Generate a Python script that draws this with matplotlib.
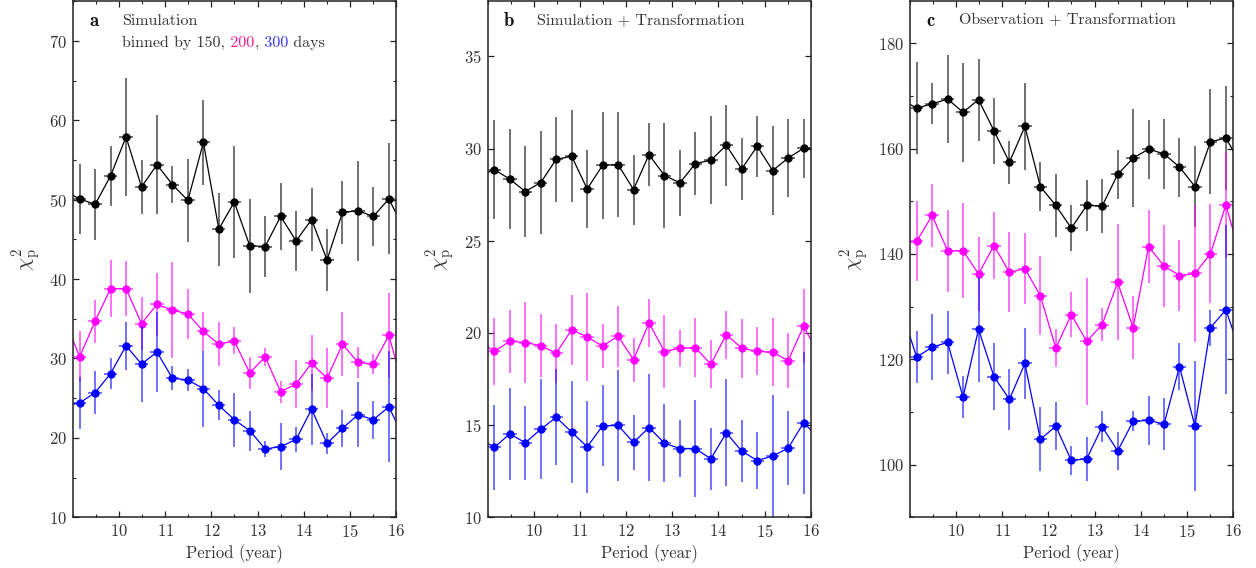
import numpy as np
import matplotlib.pyplot as plt
from matplotlib.ticker import MultipleLocator

plt.rcParams['font.family'] = ['cmr10', 'DejaVu Serif']
plt.rcParams['mathtext.fontset'] = 'cm'
plt.rcParams['axes.formatter.use_mathtext'] = True
plt.rcParams['font.size'] = 11

# period grid (years); first and last points lie just outside the axes
periods = [8.81, 9.145, 9.48, 9.815, 10.15, 10.485, 10.82, 11.155, 11.49, 11.825,
           12.16, 12.495, 12.83, 13.165, 13.5, 13.835, 14.17, 14.505, 14.84,
           15.175, 15.51, 15.845, 16.18]

# panel a: Simulation
a_150 = [51.1, 50.1, 49.4, 53.0, 57.9, 51.6, 54.4, 51.9, 49.9, 57.2, 46.3, 49.7,
         44.2, 44.1, 47.9, 44.8, 47.5, 42.4, 48.4, 48.6, 47.9, 50.1, 46.2]
a_150_err = [4.0, 4.45, 4.5, 3.8, 7.4, 3.4, 6.2, 2.3, 5.2, 5.4, 4.6, 7.1,
             5.9, 3.9, 4.2, 3.8, 4.0, 3.9, 4.0, 6.3, 3.7, 7.0, 4.0]
a_200 = [35.1, 30.2, 34.7, 38.8, 38.8, 34.4, 36.8, 36.1, 35.6, 33.4, 31.8, 32.2,
         28.2, 30.2, 25.8, 26.8, 29.4, 27.5, 31.8, 29.5, 29.3, 32.9, 25.9]
a_200_err = [3.0, 3.2, 2.7, 3.6, 3.5, 3.3, 4.0, 6.0, 3.2, 2.5, 2.8, 1.7,
             2.0, 1.1, 1.4, 3.0, 3.5, 3.8, 4.0, 2.0, 1.3, 5.3, 3.0]
a_300 = [24.0, 24.4, 25.7, 28.1, 31.6, 29.3, 30.8, 27.5, 27.3, 26.2, 24.1, 22.3,
         20.9, 18.6, 18.9, 19.8, 23.6, 19.3, 21.2, 22.9, 22.3, 23.9, 19.9]
a_300_err = [3.0, 3.3, 2.7, 2.0, 3.0, 4.8, 5.0, 1.5, 1.4, 4.8, 1.9, 3.4,
             2.5, 1.0, 3.0, 1.6, 4.5, 1.3, 2.3, 4.1, 2.4, 7.0, 3.0]

# panel b: Simulation + Transformation
b_150 = [28.5, 28.86, 28.34, 27.67, 28.16, 29.42, 29.58, 27.81, 29.10, 29.13, 27.78,
         29.67, 28.54, 28.14, 29.19, 29.37, 30.18, 28.90, 30.13, 28.81, 29.49, 30.02, 30.0]
b_150_err = [2.5, 2.7, 2.7, 2.45, 2.8, 2.3, 2.5, 2.1, 2.9, 2.85, 1.9, 1.7,
             2.85, 1.8, 1.7, 2.4, 2.2, 1.7, 1.65, 2.4, 2.1, 1.6, 2.0]
b_200 = [19.55, 19.0, 19.55, 19.48, 19.31, 18.9, 20.18, 19.78, 19.29, 19.82, 18.55,
         20.54, 18.99, 19.17, 19.2, 18.3, 19.91, 19.17, 19.0, 18.95, 18.5, 20.36, 18.8]
b_200_err = [1.7, 1.8, 1.7, 2.2, 1.7, 1.6, 1.9, 2.4, 1.2, 1.65, 1.2, 1.3,
             2.0, 1.0, 1.6, 1.3, 1.3, 1.6, 1.3, 1.85, 1.5, 2.0, 1.7]
b_300 = [14.3, 13.79, 14.53, 14.04, 14.78, 15.42, 14.62, 13.82, 14.96, 14.98, 14.06,
         14.87, 14.02, 13.73, 13.73, 13.17, 14.58, 13.59, 13.08, 13.32, 13.75, 15.13, 14.3]
b_300_err = [2.3, 2.3, 2.5, 2.0, 2.7, 2.6, 2.75, 2.5, 2.2, 3.0, 1.5, 2.9,
             2.1, 1.55, 2.65, 1.7, 2.9, 1.7, 1.55, 3.3, 2.0, 3.85, 2.3]

# panel c: Observation + Transformation
c_150 = [169.3, 167.7, 168.5, 169.4, 166.9, 169.3, 163.4, 157.4, 164.2, 152.8, 149.2,
         144.9, 149.2, 149.1, 155.1, 158.2, 159.9, 159.0, 156.5, 152.8, 161.3, 162.0, 156.9]
c_150_err = [7.0, 8.7, 3.9, 8.3, 9.4, 7.8, 6.3, 4.1, 8.2, 4.7, 6.0, 4.3,
             4.8, 5.2, 4.7, 9.3, 5.6, 6.6, 5.6, 7.6, 10.0, 9.8, 7.0]
c_200 = [142.0, 142.4, 147.3, 140.6, 140.6, 136.2, 141.6, 136.5, 137.2, 132.1, 122.1,
         128.5, 123.4, 126.6, 134.6, 126.0, 141.4, 137.7, 135.9, 136.3, 140.0, 149.3, 139.0]
c_200_err = [7.0, 7.6, 6.0, 7.8, 9.0, 7.0, 6.4, 7.6, 6.7, 7.5, 3.6, 4.2,
             12.0, 3.1, 11.0, 6.0, 7.0, 7.7, 6.7, 13.0, 9.4, 10.0, 7.0]
c_300 = [129.5, 120.4, 122.3, 123.2, 112.8, 125.7, 116.7, 112.4, 119.2, 104.8, 107.3,
         100.8, 101.1, 107.2, 102.6, 108.2, 108.4, 107.7, 118.6, 107.3, 126.0, 129.4, 120.8]
c_300_err = [5.0, 4.9, 6.3, 6.0, 4.0, 10.0, 6.4, 5.8, 6.7, 6.1, 4.5, 2.7,
             4.2, 3.0, 3.6, 1.9, 4.6, 5.0, 4.4, 12.4, 3.4, 16.0, 5.0]

panels = [
    ('a', 'Simulation', (10, 75), 10, 5,
     [(a_150, a_150_err), (a_200, a_200_err), (a_300, a_300_err)]),
    ('b', 'Simulation + Transformation', (10, 38), 5, None,
     [(b_150, b_150_err), (b_200, b_200_err), (b_300, b_300_err)]),
    ('c', 'Observation + Transformation', (90, 188), 20, 10,
     [(c_150, c_150_err), (c_200, c_200_err), (c_300, c_300_err)]),
]
colors = ['black', '#ff00ff', '#0000ff']
txt = '#333333'
xticks = [10, 11, 12, 13, 14, 15, 16]

fig = plt.figure(figsize=(12.56, 5.68), dpi=100)
lefts = [0.0581, 0.3883, 0.7245]
width = 0.2572

for (letter, title, ylim, major, minor, series), left in zip(panels, lefts):
    ax = fig.add_axes([left, 0.0893, width, 0.9087])
    for (vals, errs), col in zip(series, colors):
        ax.errorbar(periods, vals, yerr=errs, xerr=0.145, fmt='none',
                    ecolor=col, elinewidth=1.3, alpha=0.6, capsize=0)
        ax.plot(periods, vals, '-o', color=col, lw=0.9, ms=5)
    ax.set_xlim(9, 16)
    ax.set_ylim(*ylim)
    ax.set_xticks(xticks)
    ax.xaxis.set_minor_locator(MultipleLocator(0.5))
    ax.yaxis.set_major_locator(MultipleLocator(major))
    if minor:
        ax.yaxis.set_minor_locator(MultipleLocator(minor))
    ax.tick_params(which='both', direction='in', top=True, right=True,
                   colors='#222222', labelcolor=txt, labelsize=12, pad=4)
    ax.tick_params(which='major', length=4, width=0.9)
    ax.tick_params(which='minor', length=2.5, width=0.8)
    for s in ax.spines.values():
        s.set_linewidth(1.1)
        s.set_color('#222222')
    ax.set_xlabel('Period (year)', color=txt, fontsize=12, labelpad=3)
    ax.set_ylabel(r'$\chi^2_{\rm p}$', color=txt, fontsize=15, labelpad=5)
    ax.text(0.05, 0.962, letter, transform=ax.transAxes, family='cmb10',
            fontsize=13.5, color='#111111', va='center')
    t = ax.text(0.152, 0.962, title, transform=ax.transAxes, fontsize=11.5,
                color=txt, va='center')
    if letter == 'a':
        t1 = ax.text(0.152, 0.912, 'binned by 150,', transform=ax.transAxes,
                     fontsize=11.5, color=txt, va='baseline')
        t2 = ax.annotate(' 200', xy=(1, 0), xycoords=t1, fontsize=11.5,
                         color='#ff1a8c', va='bottom')
        t3 = ax.annotate(',', xy=(1, 0), xycoords=t2, fontsize=11.5,
                         color=txt, va='bottom')
        t4 = ax.annotate(' 300', xy=(1, 0), xycoords=t3, fontsize=11.5,
                         color='#3333ff', va='bottom')
        ax.annotate(' days', xy=(1, 0), xycoords=t4, fontsize=11.5,
                    color=txt, va='bottom')

fig.savefig('out.png', dpi=100)
